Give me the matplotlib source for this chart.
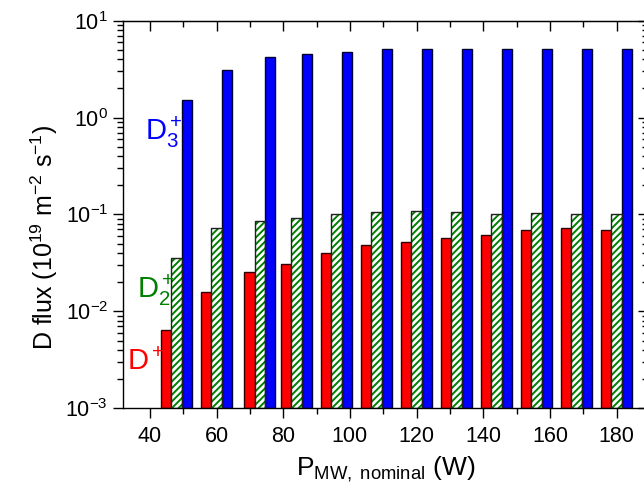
import numpy as np
import matplotlib
matplotlib.use('Agg')
import matplotlib.pyplot as plt

# nominal microwave power of each group (W)
power = [48, 60, 73, 84, 96, 108, 120, 132, 144, 156, 168, 180]

# D flux, 1e19 m^-2 s^-1
d1_flux = [0.0064, 0.016, 0.0257, 0.0308, 0.0403, 0.0486, 0.0523,
           0.0576, 0.0612, 0.0695, 0.073, 0.0695]
d2_flux = [0.0352, 0.073, 0.086, 0.093, 0.1007, 0.1056, 0.109,
           0.107, 0.1016, 0.103, 0.1016, 0.1016]
d3_flux = [1.52, 3.1, 4.2, 4.5, 4.8, 5.07, 5.1, 5.1, 5.15, 5.07, 5.07, 5.15]

red = "#ff0000"
green = "#008000"
blue = "#0000ff"
fs_tick = 15.5
fs_label = 18

plt.rcParams['font.family'] = 'Liberation Sans'
plt.rcParams['mathtext.fontset'] = 'custom'
plt.rcParams['mathtext.rm'] = 'Liberation Sans'
plt.rcParams['mathtext.it'] = 'Liberation Sans:italic'
plt.rcParams['mathtext.bf'] = 'Liberation Sans:bold'
plt.rcParams['hatch.linewidth'] = 1.4

fig = plt.figure(figsize=(6.44, 4.95), dpi=100)
ax = fig.add_axes([0.1915, 0.1752, 0.815, 0.783])
ax.set_yscale('log')

x = np.array(power, dtype=float)
w = 3.1
bottom = 1e-3
ax.bar(x - w, np.array(d1_flux) - bottom, w, bottom=bottom, color=red,
       edgecolor="#300000", linewidth=1.0, zorder=2)
# hatched green bars: hatch first, black outline on top
ax.bar(x, np.array(d2_flux) - bottom, w, bottom=bottom, facecolor="white",
       edgecolor=green, hatch="/////", linewidth=0, zorder=2)
ax.bar(x, np.array(d2_flux) - bottom, w, bottom=bottom, fill=False,
       edgecolor="#202020", linewidth=1.0, zorder=3)
ax.bar(x + w, np.array(d3_flux) - bottom, w, bottom=bottom, color=blue,
       edgecolor="#000030", linewidth=1.0, zorder=2)

ax.set_xlim(32, 189.5)
ax.set_ylim(1e-3, 10)
ax.set_xticks([40, 60, 80, 100, 120, 140, 160, 180])
ax.set_xticks(np.arange(50, 190, 20), minor=True)

ax.tick_params(axis="both", which="major", labelsize=fs_tick, length=7,
               width=1, direction="out")
ax.tick_params(axis="x", which="major", pad=6)
ax.tick_params(axis="y", which="major", pad=4)
ax.tick_params(axis="both", which="minor", length=4, width=1, direction="out")
for s in ax.spines.values():
    s.set_linewidth(1.0)

# inward ticks on top and right, no labels
axt = ax.secondary_xaxis('top')
axt.set_xticks([40, 60, 80, 100, 120, 140, 160, 180])
axt.set_xticks(np.arange(50, 190, 20), minor=True)
axt.tick_params(which="major", direction="in", length=7, width=1, labeltop=False)
axt.tick_params(which="minor", direction="in", length=4, width=1)
axr = ax.secondary_yaxis('right')
axr.set_yscale('log')
axr.tick_params(which="major", direction="in", length=7, width=1, labelright=False)
axr.tick_params(which="minor", direction="in", length=4, width=1, labelright=False)

ax.set_xlabel(r"P$_{\mathrm{MW,\ nominal}}$ (W)", fontsize=fs_label + 1)
ax.set_ylabel(r"D flux (10$^{19}$ m$^{-2}$ s$^{-1}$)", fontsize=fs_label)
ax.xaxis.set_label_coords(0.5, -0.12)
ax.yaxis.set_label_coords(-0.12, 0.44)

ax.text(38.5, 0.587, r"D$_3^+$", color=blue, fontsize=21)
ax.text(36.0, 0.0137, r"D$_2^+$", color=green, fontsize=21)
ax.text(33.0, 0.00248, r"D$^+$", color=red, fontsize=21)

plt.savefig("out.png", dpi=100)
plt.close()
